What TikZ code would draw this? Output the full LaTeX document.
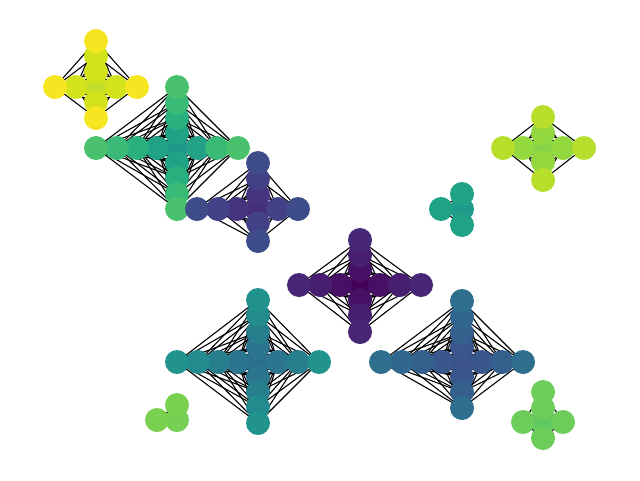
\documentclass[tikz,border=0pt]{standalone}
\usetikzlibrary{backgrounds}
\definecolor{A0}{RGB}{190,222,40}\definecolor{A1}{RGB}{212,226,27}\definecolor{A3}{RGB}{246,230,34}
\definecolor{B0}{RGB}{31,152,138}\definecolor{B1}{RGB}{33,162,134}\definecolor{B2}{RGB}{42,175,127}\definecolor{B3}{RGB}{57,186,118}\definecolor{B4}{RGB}{74,193,109}
\definecolor{C0}{RGB}{71,44,123}\definecolor{C1}{RGB}{70,52,128}\definecolor{C2}{RGB}{66,64,134}\definecolor{C3}{RGB}{62,76,137}
\definecolor{D0}{RGB}{68,3,86}\definecolor{D1}{RGB}{70,16,100}\definecolor{D2}{RGB}{72,30,112}\definecolor{D3}{RGB}{72,38,118}
\definecolor{E0}{RGB}{45,112,142}\definecolor{E1}{RGB}{43,117,142}\definecolor{E2}{RGB}{39,127,142}\definecolor{E3}{RGB}{35,138,141}\definecolor{E4}{RGB}{33,146,140}
\definecolor{F0}{RGB}{59,82,139}\definecolor{F1}{RGB}{57,87,140}\definecolor{F2}{RGB}{53,95,141}\definecolor{F3}{RGB}{49,103,142}\definecolor{F4}{RGB}{46,110,142}
\definecolor{G0}{RGB}{30,155,138}\definecolor{G1}{RGB}{32,162,135}
\definecolor{H0}{RGB}{134,213,72}\definecolor{H1}{RGB}{148,216,64}\definecolor{H3}{RGB}{182,222,43}
\definecolor{I0}{RGB}{94,201,98}\definecolor{I1}{RGB}{108,205,90}
\definecolor{J0}{RGB}{118,208,84}\definecolor{J1}{RGB}{122,209,81}
\tikzset{
  vnode/.style={circle, draw=none, minimum size=24pt, inner sep=0pt},
  edge/.style={draw=black, line width=1.1pt}
}
\newcommand{\myclus}[5]{%
  \begin{scope}[shift={(#2,#3)}]
    \foreach \dx/\dy/\lv [count=\k] in {#5}{
      \coordinate (#1p\k) at (\dx,\dy);
    }
  \end{scope}
  \begin{pgfonlayer}{background}
    \foreach \i in {1,...,#4}{
      \foreach \j in {\i,...,#4}{
        \draw[edge] (#1p\i) -- (#1p\j);
      }
    }
  \end{pgfonlayer}
  \foreach \dx/\dy/\lv [count=\k] in {#5}{
    \node[vnode, fill=#1\lv] (#1n\k) at (#1p\k) {};
  }
}
\begin{document}
\begin{tikzpicture}[x=1pt,y=-1pt]
\useasboundingbox (0,0) rectangle (640,480);
\myclus{A}{96}{87}{10}{0/0/0, 0/-15/1, 0/15/1, -20/0/1, 20/0/1, 0/-31/1, 0/31/3, -41/0/3, 41/0/3, 0/-46/3}
\myclus{B}{177}{148}{16}{0/0/0, -20/0/1, 21/0/1, 0/-15/1, 0/15/1, -40/0/2, 0/-30/2, 0/30/2, -60/0/3, 40/0/3, 0/-45/3, 0/46/3, -81/0/4, 61/0/4, 0/-61/4, 0/61/4}
\myclus{C}{258}{209}{11}{0/0/0, -21/0/1, 0/-14/1, 20/0/2, 0/14/2, -40/0/2, 0/-30/2, -61/0/3, 40/0/3, 0/-46/3, 0/32/3}
\myclus{D}{360}{285}{13}{0/0/0, -20/0/1, 20/0/1, 0/-15/1, 0/15/1, -40/0/2, 40/0/2, 0/-30/2, 0/30/2, -61/0/3, 61/0/3, 0/-45/3, 0/47/3}
\myclus{E}{258}{362}{16}{0/0/0, -20/0/1, 20/0/1, 0/-15/1, 0/15/1, -40/0/2, 40/0/2, 0/-30/2, 0/30/2, -60/0/3, 0/-47/3, 0/45/3, -81/0/4, 61/0/4, 0/-62/4, 0/61/4}
\myclus{F}{462}{362}{15}{0/0/0, -20/0/1, 20/0/1, 0/-15/1, 0/15/1, -40/0/2, 40/0/2, 0/-29/2, 0/30/2, -60/0/3, 0/-45/3, -81/0/4, 61/0/4, 0/-61/4, 0/46/4}
\myclus{G}{462}{209}{4}{0/0/0, 0/-15/1, -21/0/1, 0/16/1}
\myclus{H}{543}{148}{9}{0/0/0, -20/0/1, 20/0/1, 0/-15/1, 0/14/1, -40/0/3, 41/0/3, 0/-31/3, 0/32/3}
\myclus{I}{543}{422}{6}{0/0/0, 0/-14/1, -20/0/1, 20/0/1, 0/-30/1, 0/16/1}
\myclus{J}{177}{420}{3}{0/0/0, 0/-15/1, -20/0/1}
\end{tikzpicture}
\end{document}
